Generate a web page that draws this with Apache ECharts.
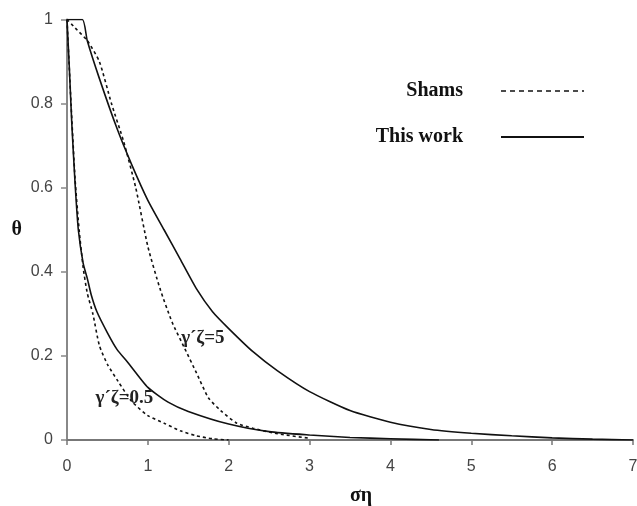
<!DOCTYPE html>
<html>
<head>
<meta charset="utf-8">
<script src="https://cdn.jsdelivr.net/npm/echarts@6/dist/echarts.min.js"></script>
<style>
html, body { margin: 0; padding: 0; background: #fff; }
#chart { width: 637px; height: 506px; }
</style>
</head>
<body>
<div id="chart"></div>
<script>
// x ticks / y ticks
var xTicks = [0, 1, 2, 3, 4, 5, 6, 7];
var yTicks = [0, 0.2, 0.4, 0.6, 0.8, 1];

// this work, gamma'zeta = 5
var workX5 = [0, 0.19, 0.25, 0.4, 0.62, 0.8, 1.0, 1.2, 1.4, 1.6, 1.8, 2.0, 2.3, 2.6, 3.0, 3.5, 4.0, 4.5, 5.0, 5.5, 6.0, 6.5, 7.0];
var workY5 = [1, 1, 0.95, 0.86, 0.74, 0.655, 0.57, 0.50, 0.43, 0.36, 0.305, 0.265, 0.21, 0.165, 0.115, 0.07, 0.042, 0.025, 0.016, 0.01, 0.005, 0.002, 0];

// shams, gamma'zeta = 5
var shamsX5 = [0, 0.1, 0.25, 0.4, 0.55, 0.7, 0.85, 1.0, 1.15, 1.3, 1.45, 1.6, 1.75, 1.9, 2.1, 2.3, 2.6, 3.0];
var shamsY5 = [1, 0.98, 0.95, 0.90, 0.80, 0.71, 0.60, 0.46, 0.36, 0.28, 0.22, 0.16, 0.10, 0.07, 0.04, 0.028, 0.015, 0.004];

// this work, gamma'zeta = 0.5
var workX05 = [0, 0.03, 0.06, 0.1, 0.14, 0.2, 0.25, 0.3, 0.37, 0.5, 0.62, 0.75, 1.0, 1.25, 1.5, 2.0, 2.5, 3.0, 3.5, 4.0, 4.6];
var workY05 = [1, 0.88, 0.75, 0.61, 0.5, 0.42, 0.385, 0.345, 0.305, 0.255, 0.215, 0.185, 0.125, 0.09, 0.068, 0.038, 0.02, 0.012, 0.006, 0.003, 0];

// shams, gamma'zeta = 0.5
var shamsX05 = [0, 0.05, 0.1, 0.15, 0.2, 0.25, 0.32, 0.4, 0.5, 0.63, 0.8, 1.0, 1.2, 1.4, 1.6, 1.8, 2.0];
var shamsY05 = [1, 0.8, 0.62, 0.5, 0.41, 0.35, 0.30, 0.225, 0.18, 0.14, 0.092, 0.058, 0.04, 0.022, 0.01, 0.003, 0];

// curve labels (data coords)
var labelText = ['γ´ζ=5', 'γ´ζ=0.5'];
var labelPos = [[1.68, 0.243], [0.71, 0.1]];

function pairs(xs, ys) {
    var out = [];
    for (var i = 0; i < xs.length; i++) {
        out.push([xs[i], ys[i]]);
    }
    return out;
}

var serif = '"Liberation Serif", "DejaVu Serif", serif';
var sans = '"Liberation Sans", Arial, sans-serif';
var solidStyle = { color: '#111', width: 1.6, type: 'solid' };
var dotStyle = { color: '#111', width: 1.6, type: [3, 3] };

function curve(name, data, style, extra) {
    var s = {
        name: name,
        type: 'line',
        data: data,
        symbol: 'none',
        smooth: 0.2,
        lineStyle: style,
        itemStyle: { color: '#111' },
        z: 3
    };
    if (extra) {
        for (var k in extra) s[k] = extra[k];
    }
    return s;
}

var chart = echarts.init(document.getElementById('chart'), null, { renderer: 'canvas' });

var option = {
    backgroundColor: '#fff',
    animation: false,
    grid: { left: 67, right: 4, top: 19.5, bottom: 66, outerBoundsMode: 'none' },
    legend: {
        orient: 'vertical',
        right: 47,
        top: 76,
        align: 'right',
        selectedMode: false,
        itemWidth: 83,
        itemHeight: 14,
        itemGap: 26,
        itemStyle: { opacity: 0 },
        textStyle: {
            fontFamily: serif,
            fontWeight: 'bold',
            fontSize: 20,
            color: '#111',
            padding: [0, 33, 0, 0]
        },
        data: [
            { name: 'Shams', lineStyle: { color: '#111', width: 1.4, type: [5, 4] } },
            { name: 'This work', lineStyle: { color: '#111', width: 2, type: 'solid' } }
        ]
    },
    xAxis: {
        type: 'value',
        min: xTicks[0],
        max: xTicks[xTicks.length - 1],
        interval: 1,
        name: 'ση',
        nameLocation: 'middle',
        nameGap: 46,
        nameTextStyle: { fontFamily: serif, fontWeight: 'bold', fontSize: 20, color: '#111', padding: [0, 0, 0, 22] },
        axisLine: { lineStyle: { color: '#777', width: 2 } },
        axisTick: { show: true, length: 5, lineStyle: { color: '#777', width: 1.5 } },
        axisLabel: { fontFamily: sans, fontSize: 16, color: '#444', margin: 19 },
        splitLine: { show: false }
    },
    yAxis: {
        type: 'value',
        min: yTicks[0],
        max: yTicks[yTicks.length - 1],
        interval: 0.2,
        name: 'θ',
        nameLocation: 'middle',
        nameRotate: 0,
        nameGap: 45,
        nameTextStyle: { fontFamily: serif, fontWeight: 'bold', fontSize: 20, color: '#111' },
        axisLine: { show: true, lineStyle: { color: '#888', width: 2 } },
        axisTick: { show: true, length: 6, lineStyle: { color: '#888', width: 1.5 } },
        axisLabel: { fontFamily: sans, fontSize: 16, color: '#444', margin: 14 },
        splitLine: { show: false }
    },
    series: [
        curve('Shams', pairs(shamsX5, shamsY5), dotStyle),
        curve('This work', pairs(workX5, workY5), solidStyle, {
            markPoint: {
                symbol: 'circle',
                symbolSize: 0,
                silent: true,
                label: {
                    show: true,
                    position: 'inside',
                    fontFamily: serif,
                    fontWeight: 'bold',
                    fontSize: 19,
                    color: '#222',
                    formatter: function (p) { return p.name; }
                },
                data: [
                    { name: labelText[0], coord: labelPos[0] },
                    { name: labelText[1], coord: labelPos[1] }
                ]
            }
        }),
        curve('Shams', pairs(shamsX05, shamsY05), dotStyle),
        curve('This work', pairs(workX05, workY05), solidStyle)
    ]
};

chart.setOption(option);
</script>
</body>
</html>
